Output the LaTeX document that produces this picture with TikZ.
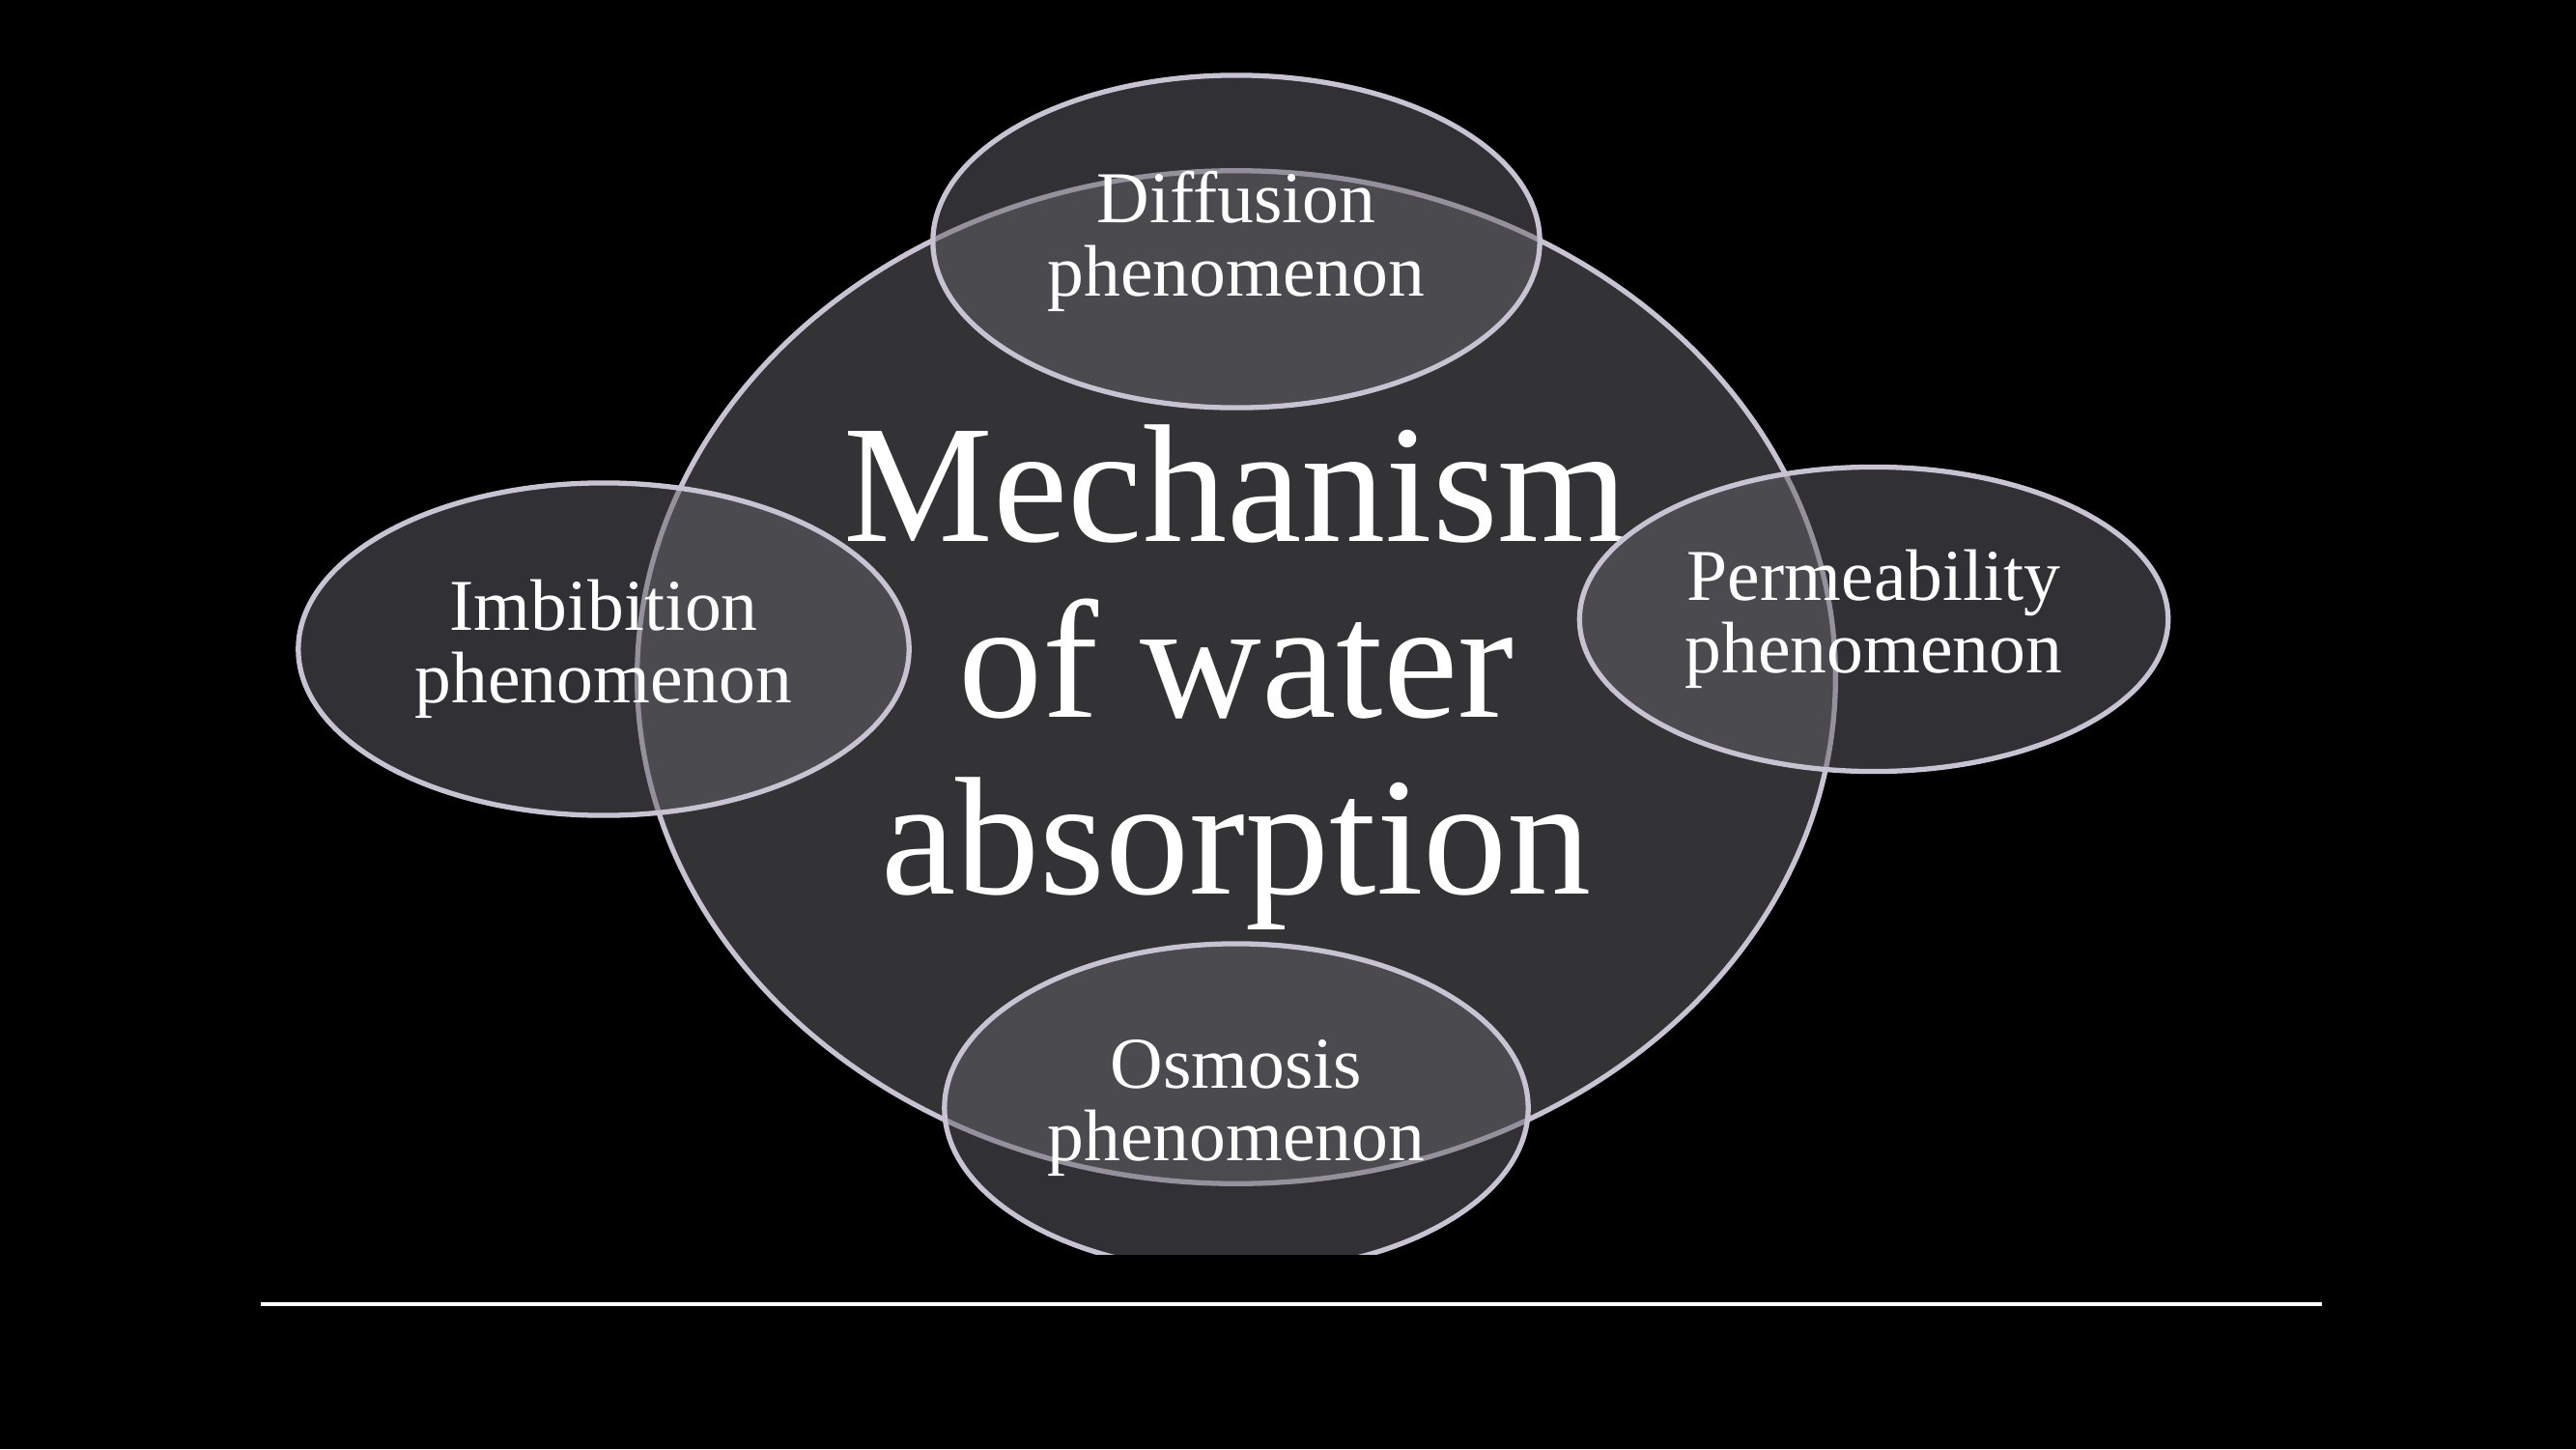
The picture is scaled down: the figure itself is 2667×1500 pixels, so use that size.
\documentclass[tikz,border=0pt]{standalone}
\usepackage{fontspec}
\setmainfont{Liberation Serif}
\usetikzlibrary{shapes.geometric}
\definecolor{bigfill}{RGB}{51,51,54}
\definecolor{smallfill}{RGB}{98,97,104}
\definecolor{rim}{RGB}{200,195,211}
\tikzset{
  bigcirc/.style={ellipse, draw=rim, line width=1.5pt, fill=bigfill, text=white,
    align=center, inner sep=0pt, font=\fontsize{49.5}{51.8}\selectfont},
  phen/.style={ellipse, draw=rim, line width=1.5pt, fill=smallfill, fill opacity=0.5,
    text opacity=1, text=white, align=center, inner sep=0pt,
    font=\fontsize{21.5}{21.5}\selectfont},
  rule/.style={draw=white, line width=1.3pt}
}
\begin{document}
\begin{tikzpicture}[x=0.01cm, y=-0.01cm]
  \fill[black] (0,0) rectangle (2667,1500);
  \useasboundingbox (0,0) rectangle (2667,1500);
  \node[bigcirc, minimum width=12.4cm, minimum height=10.48cm] (mech) at (1280,701)
    {Mechanism\\of water\\absorption};
  \node[phen, minimum width=6.28cm, minimum height=3.44cm] (diff) at (1280,250)
    {Diffusion\\phenomenon};
  \node[phen, minimum width=6.32cm, minimum height=3.44cm] (imb) at (625,672)
    {Imbibition\\phenomenon};
  \node[phen, minimum width=6.09cm, minimum height=3.15cm] (perm) at (1940,641)
    {Permeability\\phenomenon};
  \begin{scope}
    \clip (0,0) rectangle (2667,1298);
    \node[phen, minimum width=6.04cm, minimum height=3.40cm] (osm) at (1280,1147)
      {Osmosis\\phenomenon};
  \end{scope}
  \coordinate (lineL) at (270,1350);
  \coordinate (lineR) at (2404,1350);
  \draw[rule] (lineL) -- (lineR);
\end{tikzpicture}
\end{document}
